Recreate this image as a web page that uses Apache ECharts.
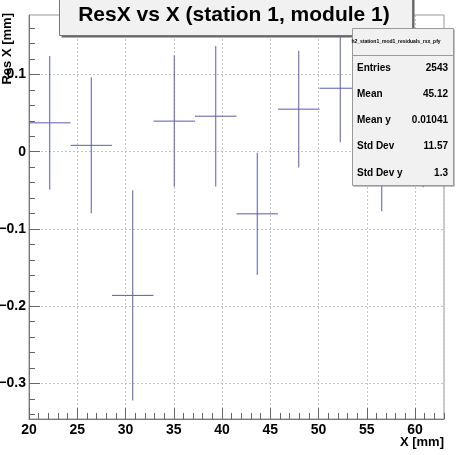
<!DOCTYPE html>
<html>
<head>
<meta charset="utf-8">
<script src="https://cdn.jsdelivr.net/npm/echarts@6/dist/echarts.min.js"></script>
<style>
  html, body { margin: 0; padding: 0; background: #fff; }
  #chart { width: 471px; height: 455px; }
</style>
</head>
<body>
<div id="chart"></div>
<script>
// bin centres, profile means and errors
const xCenters = [22.15, 26.45, 30.75, 35.05, 39.35, 43.65, 47.95, 52.25, 56.55, 60.85];
const yMeans = [0.0374, 0.0083, -0.186, 0.0396, 0.046, -0.0804, 0.0551, 0.0822, 0.010, 0.040];
const yErrors = [0.0865, 0.088, 0.136, 0.085, 0.091, 0.079, 0.0755, 0.070, 0.087, 0.086];
const binHalf = 2.15;

const yMajorTicks = [-0.3, -0.2, -0.1, 0, 0.1];
const yMinorTicks = [-0.34, -0.32, -0.3, -0.28, -0.26, -0.24, -0.22, -0.2, -0.18, -0.16, -0.14, -0.12,
  -0.1, -0.08, -0.06, -0.04, -0.02, 0, 0.02, 0.04, 0.06, 0.08, 0.1, 0.12, 0.14, 0.16];

const statsName = 'h2_station1_mod1_residuals_rsx_pfy';
const statsLabels = ['Entries', 'Mean', 'Mean y', 'Std Dev', 'Std Dev y'];
const statsValues = ['2543', '45.12', '0.01041', '11.57', '1.3'];

const FONT = '"Liberation Sans", Arial, Helvetica, sans-serif';
const lineColor = '#5b5bab';

const points = xCenters.map((x, i) => [x, yMeans[i], yErrors[i]]);

const statsGraphics = [];
statsLabels.forEach((lab, i) => {
  const ty = 68 + i * 26.2;
  statsGraphics.push({
    type: 'text', x: 357, y: ty, z: 102,
    style: { text: lab, font: 'bold 10px ' + FONT, fill: '#000', align: 'left', verticalAlign: 'middle' }
  });
  statsGraphics.push({
    type: 'text', x: 448, y: ty, z: 102,
    style: { text: statsValues[i], font: 'bold 10px ' + FONT, fill: '#000', align: 'right', verticalAlign: 'middle' }
  });
});

const myChart = echarts.init(document.getElementById('chart'));
const option = {
  animation: false,
  backgroundColor: '#fff',
  grid: {
    left: 29, right: 27, top: 15, bottom: 36,
    show: true, borderColor: '#9a9a9a', borderWidth: 1,
    outerBoundsMode: 'none'
  },
  xAxis: [
    {
      type: 'value', min: 20, max: 63, interval: 5,
      axisLine: { show: true, onZero: false, lineStyle: { color: '#777' } },
      axisTick: { inside: true, length: 11, lineStyle: { color: '#666' } },
      axisLabel: {
        margin: 4, showMaxLabel: false, color: '#000',
        fontFamily: FONT, fontWeight: 'bold', fontSize: 14
      },
      splitLine: { show: true, lineStyle: { color: '#c4c4c4', type: [2, 2] } }
    },
    {
      type: 'value', min: 20, max: 63, interval: 1, position: 'bottom',
      axisLine: { show: false, onZero: false },
      axisTick: { inside: true, length: 6, lineStyle: { color: '#666' } },
      axisLabel: { show: false },
      splitLine: { show: false }
    }
  ],
  yAxis: [
    {
      type: 'value', min: -0.346, max: 0.177, position: 'left',
      axisLine: { show: true, onZero: false, lineStyle: { color: '#777' } },
      axisTick: { inside: true, length: 11, customValues: yMajorTicks, lineStyle: { color: '#666' } },
      axisLabel: {
        customValues: yMajorTicks, margin: 3, color: '#000',
        fontFamily: FONT, fontWeight: 'bold', fontSize: 14,
        formatter: v => (Math.abs(v) < 1e-9 ? '0' : (v < 0 ? '\u2212' : '') + Math.abs(v).toFixed(1))
      },
      splitLine: { show: true, lineStyle: { color: '#c4c4c4', type: [2, 2] } }
    },
    {
      type: 'value', min: -0.346, max: 0.177, position: 'left',
      axisLine: { show: false, onZero: false },
      axisTick: { inside: true, length: 6, customValues: yMinorTicks, lineStyle: { color: '#666' } },
      axisLabel: { show: false },
      splitLine: { show: false }
    }
  ],
  series: [
    {
      type: 'custom',
      xAxisIndex: 0, yAxisIndex: 0,
      data: points,
      clip: true,
      renderItem: (params, api) => {
        const x = api.value(0), y = api.value(1), e = api.value(2);
        const pL = api.coord([x - binHalf, y]);
        const pR = api.coord([x + binHalf, y]);
        const pT = api.coord([x, y + e]);
        const pB = api.coord([x, y - e]);
        const st = { stroke: lineColor, lineWidth: 1 };
        return {
          type: 'group',
          children: [
            { type: 'line', shape: { x1: pL[0], y1: pL[1], x2: pR[0], y2: pR[1] }, style: st },
            { type: 'line', shape: { x1: pT[0], y1: pT[1], x2: pB[0], y2: pB[1] }, style: st }
          ]
        };
      }
    }
  ],
  graphic: [
    // title box
    { type: 'rect', shape: { x: 61.5, y: -2, width: 353, height: 39.5 }, style: { fill: '#666' }, z: 100 },
    { type: 'rect', shape: { x: 59.5, y: -2, width: 353, height: 37.5 }, style: { fill: '#f1f1f1', stroke: '#777', lineWidth: 1 }, z: 101 },
    {
      type: 'text', x: 234, y: 15, z: 102,
      style: { text: 'ResX vs X (station 1, module 1)', font: 'bold 21px ' + FONT, fill: '#000', align: 'center', verticalAlign: 'middle' }
    },
    // y axis title
    {
      type: 'text', x: 7.5, y: 13, rotation: Math.PI / 2, z: 102,
      style: { text: 'Res X [mm]', font: 'bold 13px ' + FONT, fill: '#000', align: 'right', verticalAlign: 'middle' }
    },
    // x axis title
    {
      type: 'text', x: 444, y: 442, z: 102,
      style: { text: 'X [mm]', font: 'bold 13px ' + FONT, fill: '#000', align: 'right', verticalAlign: 'middle' }
    },
    // stats box
    { type: 'rect', shape: { x: 353.5, y: 29.5, width: 101, height: 157 }, style: { fill: '#888' }, z: 100 },
    { type: 'rect', shape: { x: 352.5, y: 28.5, width: 101, height: 157 }, style: { fill: '#f1f1f1', stroke: '#999', lineWidth: 1 }, z: 101 },
    { type: 'line', shape: { x1: 352.5, y1: 55.5, x2: 453.5, y2: 55.5 }, style: { stroke: '#999', lineWidth: 1 }, z: 101 },
    {
      type: 'text', x: 396, y: 42, z: 102,
      style: { text: statsName, font: 'bold 5px ' + FONT, fill: '#000', align: 'center', verticalAlign: 'middle' }
    }
  ].concat(statsGraphics)
};
option && myChart.setOption(option);
</script>
</body>
</html>
